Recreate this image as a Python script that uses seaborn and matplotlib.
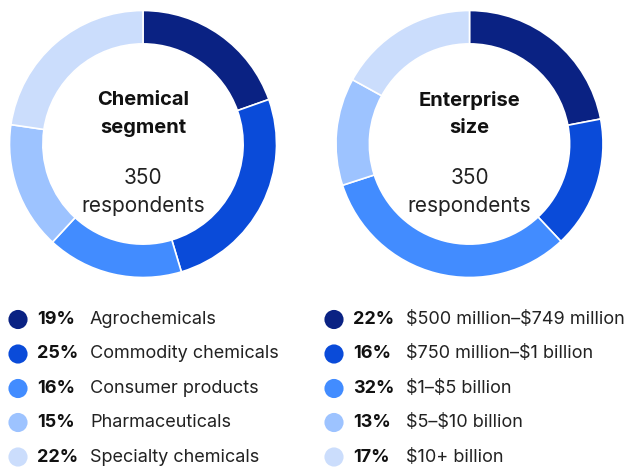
import matplotlib
matplotlib.use("Agg")
import matplotlib.pyplot as plt
import seaborn as sns

sns.set_theme(style="white")
plt.rcParams["font.family"] = ["Inter", "DejaVu Sans"]

# Data
segment_labels = ["Agrochemicals", "Commodity chemicals", "Consumer products",
                  "Pharmaceuticals", "Specialty chemicals"]
segment_values = [19, 25, 16, 15, 22]

size_labels = ["$500 million\u2013$749 million", "$750 million\u2013$1 billion",
               "$1\u2013$5 billion", "$5\u2013$10 billion", "$10+ billion"]
size_values = [22, 16, 32, 13, 17]

respondents = 350
palette = ["#0a2283", "#0a4bd9", "#428cff", "#9dc3ff", "#cbddfc"]

W, H = 633, 468
fig = plt.figure(figsize=(W / 100, H / 100), dpi=100)
fig.patch.set_facecolor("white")


def px_axes(cx, cy, r):
    return fig.add_axes([(cx - r) / W, (H - cy - r) / H, 2 * r / W, 2 * r / H])


def donut(cx, cy, values, title):
    ax = px_axes(cx, cy, 133.5)
    ax.pie(values, colors=palette, startangle=90, counterclock=False,
           wedgeprops=dict(width=0.25, edgecolor="white", linewidth=1.2))
    ax.set_xlim(-1, 1)
    ax.set_ylim(-1, 1)
    ax.set_aspect("equal")
    ax.axis("off")
    ax.text(0, 0.225, title, ha="center", va="center", fontsize=14.5,
            fontweight="bold", color="#111111", linespacing=1.65)
    ax.text(0, -0.36, f"{respondents}\nrespondents", ha="center", va="center",
            fontsize=15, color="#222222", linespacing=1.45)


donut(143, 144, segment_values, "Chemical\nsegment")
donut(469.5, 144, size_values, "Enterprise\nsize")

# Legends drawn on an overlay in pixel units
lg = fig.add_axes([0, 0, 1, 1], zorder=-1)
lg.set_xlim(0, W)
lg.set_ylim(H, 0)
lg.axis("off")

rows_y = [319.5, 354, 388.5, 422.5, 457]


def legend(x0, values, labels):
    sns.scatterplot(x=[x0] * len(values), y=rows_y, hue=labels, palette=palette,
                    s=190, edgecolor="none", legend=False, ax=lg)
    for y, v, lab in zip(rows_y, values, labels):
        lg.text(x0 + 19, y, f"{v}%", ha="left", va="center", fontsize=13,
                fontweight="bold", color="#111111", parse_math=False)
        lg.text(x0 + 72, y, lab, ha="left", va="center", fontsize=13,
                color="#222222", parse_math=False)


legend(18, segment_values, segment_labels)
legend(334, size_values, size_labels)

fig.savefig("out.png", dpi=100, facecolor="white")
